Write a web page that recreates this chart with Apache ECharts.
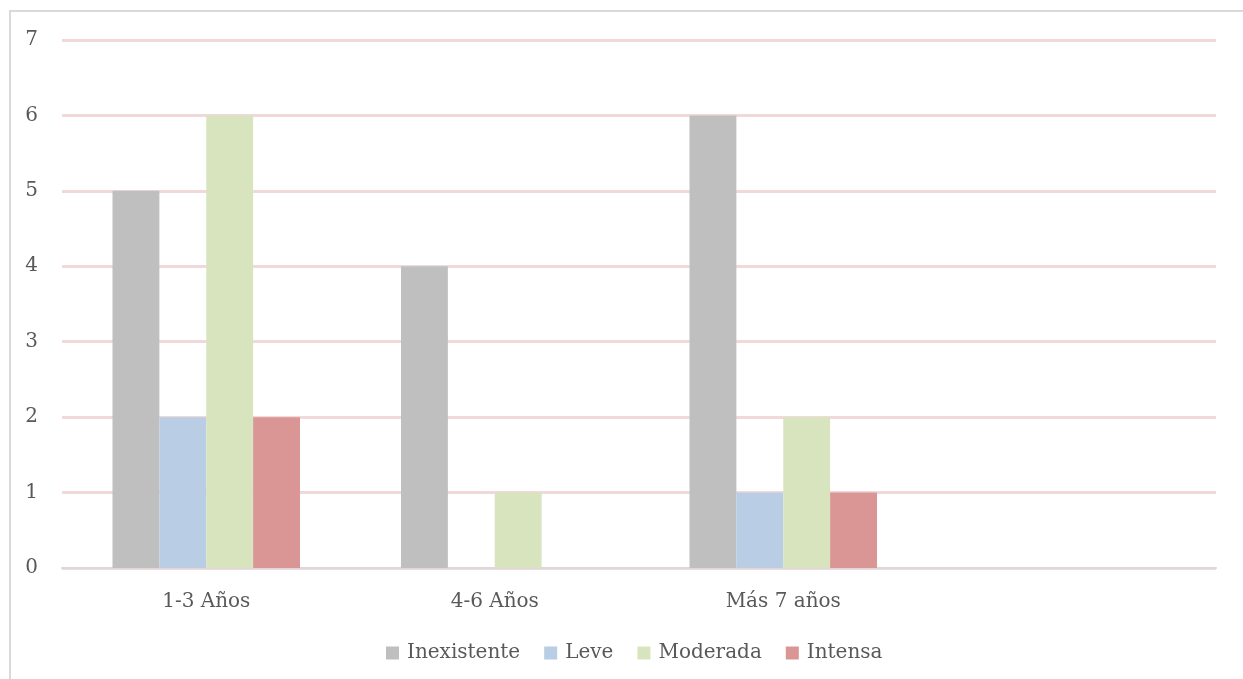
<!DOCTYPE html>
<html>
<head>
<meta charset="utf-8">
<script src="https://cdn.jsdelivr.net/npm/echarts@6/dist/echarts.min.js"></script>
<style>
html,body{margin:0;padding:0;background:#fff;}
#frame{position:absolute;left:9px;top:10px;width:1240px;height:680px;border:2px solid #d9d9d9;box-sizing:border-box;}
#chart{position:absolute;left:0;top:0;width:1243px;height:679px;}
</style>
</head>
<body>
<div id="frame"></div>
<div id="chart"></div>
<script>
const categories = ['1-3 Años', '4-6 Años', 'Más 7 años', ''];
const seriesNames = ['Inexistente', 'Leve', 'Moderada', 'Intensa'];
const inexistente = [5, 4, 6, null];
const leve = [2, 0, 1, null];
const moderada = [6, 1, 2, null];
const intensa = [2, 0, 1, null];
const yTicks = [0, 1, 2, 3, 4, 5, 6, 7];
const colors = ['#bfbfbf', '#b9cde5', '#d7e4bd', '#d99694'];
const values = [inexistente, leve, moderada, intensa];

const font = '"DejaVu Serif", "Liberation Serif", serif';
const chart = echarts.init(document.getElementById('chart'));
chart.setOption({
  animation: false,
  textStyle: { fontFamily: font },
  grid: { left: 62, right: 27, top: 40, bottom: 111, containLabel: false },
  legend: {
    bottom: 11,
    left: 381,
    itemWidth: 13,
    itemHeight: 13,
    itemGap: 24,
    icon: 'rect',
    textStyle: { fontFamily: font, fontSize: 20, color: '#595959', padding: [0, 0, 0, 3] },
    data: seriesNames
  },
  xAxis: {
    type: 'category',
    data: categories,
    axisLine: { lineStyle: { color: '#d9d9d9', width: 2 } },
    axisTick: { show: false },
    axisLabel: { fontFamily: font, fontSize: 20, color: '#595959', margin: 24 }
  },
  yAxis: {
    type: 'value',
    min: yTicks[0],
    max: yTicks[yTicks.length - 1],
    interval: 1,
    axisLine: { show: false },
    axisTick: { show: false },
    axisLabel: { fontFamily: font, fontSize: 20, color: '#595959', margin: 24 },
    splitLine: { lineStyle: { color: '#f2d9d9', width: 3 } }
  },
  series: seriesNames.map((n, i) => ({
    name: n,
    type: 'bar',
    data: values[i],
    barGap: '0%',
    barCategoryGap: '35%',
    itemStyle: { color: colors[i] }
  }))
});
</script>
</body>
</html>
